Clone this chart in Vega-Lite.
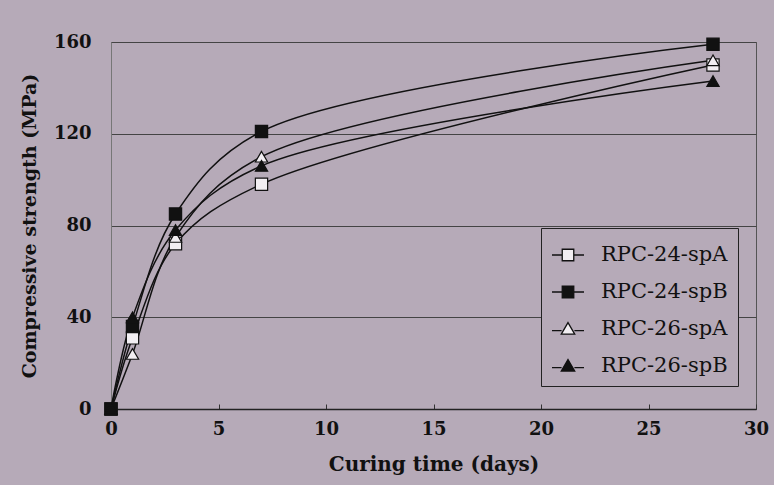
{
  "$schema": "https://vega.github.io/schema/vega-lite/v6.json",
  "autosize": "none",
  "width": 645,
  "height": 367,
  "padding": {"left": 111, "top": 42, "right": 18, "bottom": 76},
  "background": "#b6aab8",
  "config": {
    "view": {"stroke": "#555", "strokeWidth": 1, "fill": "#b6aab8"},
    "font": "DejaVu Serif"
  },
  "data": {
    "values": [
      {"t": 0, "s": 0, "series": "RPC-24-spA"},
      {"t": 1, "s": 31, "series": "RPC-24-spA"},
      {"t": 3, "s": 72, "series": "RPC-24-spA"},
      {"t": 7, "s": 98, "series": "RPC-24-spA"},
      {"t": 28, "s": 150, "series": "RPC-24-spA"},
      {"t": 0, "s": 0, "series": "RPC-24-spB"},
      {"t": 1, "s": 36, "series": "RPC-24-spB"},
      {"t": 3, "s": 85, "series": "RPC-24-spB"},
      {"t": 7, "s": 121, "series": "RPC-24-spB"},
      {"t": 28, "s": 159, "series": "RPC-24-spB"},
      {"t": 0, "s": 0, "series": "RPC-26-spA"},
      {"t": 1, "s": 24, "series": "RPC-26-spA"},
      {"t": 3, "s": 75, "series": "RPC-26-spA"},
      {"t": 7, "s": 110, "series": "RPC-26-spA"},
      {"t": 28, "s": 152, "series": "RPC-26-spA"},
      {"t": 0, "s": 0, "series": "RPC-26-spB"},
      {"t": 1, "s": 40, "series": "RPC-26-spB"},
      {"t": 3, "s": 78, "series": "RPC-26-spB"},
      {"t": 7, "s": 106, "series": "RPC-26-spB"},
      {"t": 28, "s": 143, "series": "RPC-26-spB"}
    ]
  },
  "encoding": {
    "x": {
      "field": "t", "type": "quantitative",
      "scale": {"domain": [0, 30], "nice": false},
      "axis": {
        "title": "Curing time (days)", "values": [0, 5, 10, 15, 20, 25, 30],
        "grid": false, "domainColor": "#222", "domainWidth": 1.5,
        "tickColor": "#333", "tickSize": -5, "labelPadding": 16, "labelFlush": false,
        "labelFont": "DejaVu Serif", "labelFontWeight": "bold", "labelFontSize": 18, "labelColor": "#111",
        "titleFont": "DejaVu Serif", "titleFontWeight": "bold", "titleFontSize": 20, "titleColor": "#111",
        "titlePadding": 16
      }
    },
    "y": {
      "field": "s", "type": "quantitative",
      "scale": {"domain": [0, 160], "nice": false},
      "axis": {
        "title": "Compressive strength (MPa)", "values": [0, 40, 80, 120, 160],
        "grid": true, "gridColor": "#444", "gridWidth": 1,
        "domainColor": "#777", "domainWidth": 1, "ticks": false, "labelPadding": 20,
        "labelFont": "DejaVu Serif", "labelFontWeight": "bold", "labelFontSize": 18, "labelColor": "#111",
        "titleFont": "DejaVu Serif", "titleFontWeight": "bold", "titleFontSize": 19, "titleColor": "#111",
        "titlePadding": 14
      }
    }
  },
  "layer": [
    {
      "mark": {"type": "line", "interpolate": "catmull-rom", "color": "#111", "strokeWidth": 1.5},
      "encoding": {"detail": {"field": "series"}}
    },
    {
      "mark": {"type": "point", "filled": false, "stroke": "#111", "strokeWidth": 1.2, "size": 150, "opacity": 1},
      "encoding": {
        "shape": {"field": "series", "type": "nominal", "legend": null,
          "scale": {"domain": ["RPC-24-spA", "RPC-24-spB", "RPC-26-spA", "RPC-26-spB"],
            "range": ["square", "square", "triangle-up", "triangle-up"]}},
        "fill": {"field": "series", "type": "nominal", "legend": null,
          "scale": {"domain": ["RPC-24-spA", "RPC-24-spB", "RPC-26-spA", "RPC-26-spB"],
            "range": ["#f2eef2", "#111", "#f2eef2", "#111"]}}
      }
    },
    {
      "transform": [{"filter": "false"}],
      "mark": {"type": "point", "filled": false, "stroke": "#111", "strokeWidth": 1.3, "opacity": 1},
      "encoding": {
        "shape": {"field": "series", "type": "nominal",
          "scale": {"domain": ["RPC-24-spA", "RPC-24-spB", "RPC-26-spA", "RPC-26-spB"],
            "range": [
              "M-1,0H-0.36M0.36,0H1M-0.36,-0.36H0.36V0.36H-0.36Z",
              "M-1,0H-0.36M0.36,0H1M-0.36,-0.36H0.36V0.36H-0.36Z",
              "M-1,0.1H-0.4M0.4,0.1H1M0,-0.4L0.42,0.32H-0.42Z",
              "M-1,0.1H-0.4M0.4,0.1H1M0,-0.4L0.42,0.32H-0.42Z"
            ]},
          "legend": {
            "title": null, "orient": "none", "legendX": 430, "legendY": 186,
            "direction": "vertical",
            "strokeColor": "#222", "fillColor": "#b6aab8", "padding": 10,
            "symbolSize": 1024, "symbolStrokeWidth": 1.3, "symbolOpacity": 1, "rowPadding": 10,
            "labelFont": "DejaVu Serif", "labelFontSize": 21, "labelColor": "#111",
            "labelOffset": 16, "labelLimit": 300
          }},
        "fill": {"field": "series", "type": "nominal",
          "scale": {"domain": ["RPC-24-spA", "RPC-24-spB", "RPC-26-spA", "RPC-26-spB"],
            "range": ["#f2eef2", "#111", "#f2eef2", "#111"]},
          "legend": {
            "title": null, "orient": "none", "legendX": 430, "legendY": 186,
            "direction": "vertical",
            "strokeColor": "#222", "fillColor": "#b6aab8", "padding": 10,
            "symbolSize": 1024, "symbolStrokeWidth": 1.3, "symbolOpacity": 1, "rowPadding": 10,
            "labelFont": "DejaVu Serif", "labelFontSize": 21, "labelColor": "#111",
            "labelOffset": 16, "labelLimit": 300
          }}
      }
    }
  ],
  "resolve": {"scale": {"shape": "independent", "fill": "independent"}}
}
